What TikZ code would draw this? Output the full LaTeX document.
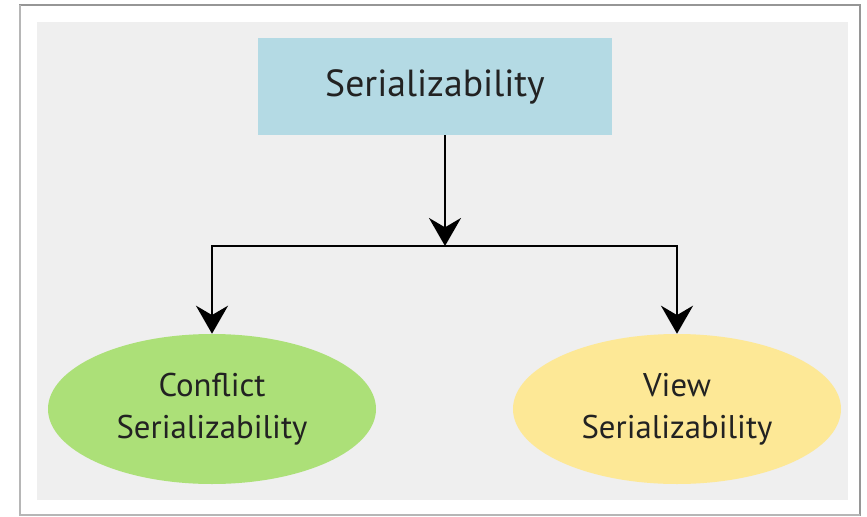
\documentclass[tikz,border=0pt]{standalone}
\usepackage{fontspec}
\setmainfont{PT Sans}
\definecolor{framegray}{RGB}{150,150,150}
\definecolor{panelgray}{RGB}{239,239,239}
\definecolor{boxblue}{RGB}{180,218,228}
\definecolor{leafgreen}{RGB}{172,224,120}
\definecolor{leafyellow}{RGB}{253,232,150}
\definecolor{textdark}{RGB}{34,34,34}
\usetikzlibrary{shapes.geometric,arrows.meta,positioning,calc}

\begin{document}
\begin{tikzpicture}[x=0.75pt,y=-0.75pt,
    rootbox/.style={rectangle,fill=boxblue,minimum width=265.5pt,minimum height=72.75pt,
        inner sep=0pt,text=textdark,font=\fontsize{28.3}{32}\selectfont},
    leaf/.style={ellipse,minimum width=246pt,minimum height=112.5pt,inner sep=0pt,
        text=textdark,align=center,font=\fontsize{24.6}{31.5}\selectfont},
    link/.style={line width=2pt,-{Stealth[length=21pt,width=24pt,inset=7pt]}}]
    \useasboundingbox (0,0) rectangle (867,517);
    % frame and panel
    \draw[framegray,line width=0.8pt,fill=white] (20,5) rectangle (860,515);
    \draw[framegray!70,line width=1.5pt] (20,5) -- (20,515) -- (860,515);
    \fill[panelgray] (37,22) rectangle (848,500);
    % nodes
    \node[rootbox] (serial) at (435,86.5) {Serializability};
    \node[leaf,fill=leafgreen] (conflict) at (212,409) {Conflict\\Serializability};
    \node[leaf,fill=leafyellow] (view) at (677,409) {View\\Serializability};
    \coordinate (split) at (445,246);
    % connectors
    \draw[link] (serial.south -| split) -- (split);
    \draw[link] (split) -| (conflict.north);
    \draw[link] (split) -| (view.north);
\end{tikzpicture}
\end{document}
